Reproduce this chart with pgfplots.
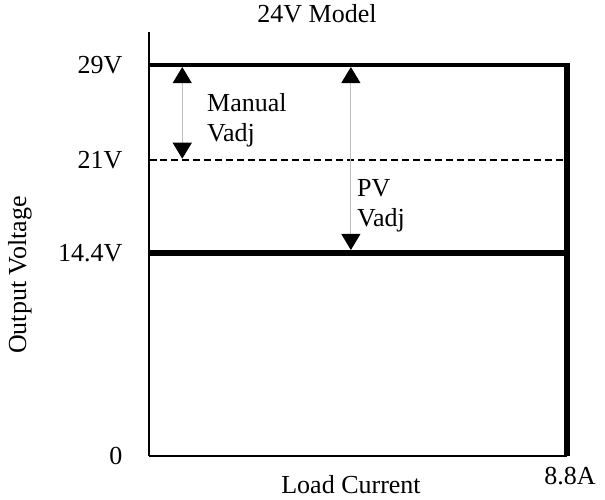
\documentclass[border=0pt]{standalone}
\usepackage{fontspec}
\setmainfont{Liberation Serif}
\usepackage{pgfplots}
\pgfplotsset{compat=1.18}
\usetikzlibrary{arrows.meta}
\tikzset{adjarrow/.style={gray!50, line width=1pt,
  arrows={Triangle[width=19pt,length=16pt,color=black]-Triangle[width=19pt,length=16pt,color=black]}}}
\begin{document}
\begin{tikzpicture}[x=1pt,y=1pt, font=\fontsize{26}{30}\selectfont]
\path (0,0) rectangle (605,500);
\begin{axis}[
  at={(149pt,44pt)}, anchor=south west, scale only axis,
  width=418pt, height=424pt,
  xmin=0, xmax=8.8, ymin=0, ymax=31.45,
  axis x line=bottom, axis y line=left,
  axis line style={-, line width=1.5pt, black},
  clip=false,
  xtick={8.8}, xticklabels={8.8A},
  x tick style={draw=none},
  xticklabel style={yshift=-8pt, xshift=3pt},
  ytick={0,15.06,21.95,29}, yticklabels={0\hspace{-12pt},14.4V,21V,29V},
  y tick style={black, line width=1.2pt},
  major tick length=8pt, tick align=inside,
  yticklabel style={xshift=-23pt},
  tick label style={font=\fontsize{26}{30}\selectfont},
  /pgf/number format/assume math mode=true,
]
\addplot[black, line width=4pt] coordinates {(0,29) (8.8,29)};
\addplot[black, line width=5.5pt] coordinates {(8.8,29.15) (8.8,0)};
\addplot[black, line width=6pt] coordinates {(0,15.06) (8.8,15.06)};
\addplot[black, line width=1.2pt, dash pattern=on 7pt off 4pt] coordinates {(0,21.95) (8.8,21.95)};
\addplot[adjarrow] coordinates {(0.7,28.85) (0.7,22.05)};
\addplot[adjarrow] coordinates {(4.25,28.85) (4.25,15.28)};
\end{axis}
\node[anchor=base] at (317,477) {24V Model};
\node[anchor=base] at (351,6) {Load Current};
\node[rotate=90] at (20,225) {Output Voltage};
\node[anchor=base west, inner sep=0pt] at (207,388) {Manual};
\node[anchor=base west, inner sep=0pt] at (207,358) {Vadj};
\node[anchor=base west, inner sep=0pt] at (357,303) {PV};
\node[anchor=base west, inner sep=0pt] at (357,273) {Vadj};
\end{tikzpicture}
\end{document}
